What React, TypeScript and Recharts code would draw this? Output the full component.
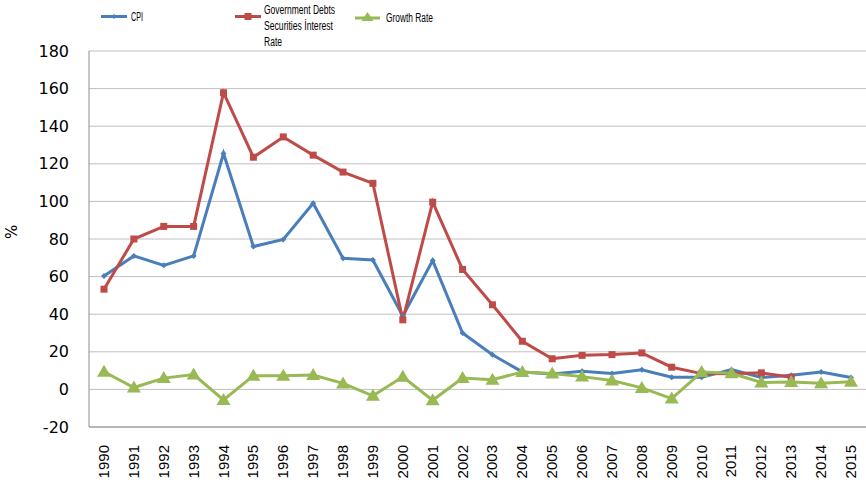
import React from 'react';
import { LineChart, Line, XAxis, YAxis, CartesianGrid } from 'recharts';

const years = [
  '1990', '1991', '1992', '1993', '1994', '1995', '1996', '1997', '1998', '1999',
  '2000', '2001', '2002', '2003', '2004', '2005', '2006', '2007', '2008', '2009',
  '2010', '2011', '2012', '2013', '2014', '2015',
];
const cpi = [
  60.3, 71, 66, 71, 125.5, 76, 79.8, 99, 69.7, 68.8,
  39, 68.5, 30, 18.4, 9.3, 8.2, 9.6, 8.4, 10.4, 6.5,
  6.4, 10.5, 6.3, 7.5, 9.3, 6.3,
];
const govRate: (number | null)[] = [
  53.3, 80, 86.7, 86.7, 157.8, 123.5, 134.3, 124.6, 115.6, 109.6,
  37, 99.6, 63.8, 45, 25.6, 16.3, 18.1, 18.5, 19.4, 11.8,
  8.4, 8.3, 8.8, 6.5, null, null,
];
const growth = [
  9.4, 1, 6, 7.9, -5.6, 7.3, 7.2, 7.6, 3.2, -3.4,
  6.7, -5.8, 6, 5.1, 9.3, 8.5, 6.8, 4.7, 0.8, -4.9,
  9.2, 8.6, 3.7, 4, 3.3, 4.1,
];
const yTicks = [-20, 0, 20, 40, 60, 80, 100, 120, 140, 160, 180];

const data = years.map((year, i) => ({
  year,
  cpi: cpi[i],
  gov: govRate[i],
  growth: growth[i],
}));

const BLUE = '#4a7ebb';
const RED = '#be4b48';
const GREEN = '#98b954';

const SquareDot = (props: any) => {
  const { cx, cy, value } = props;
  if (value == null || cx == null || cy == null) return null;
  return <rect x={cx - 3.5} y={cy - 3.5} width={7} height={7} fill={RED} />;
};

const DiamondDot = (props: any) => {
  const { cx, cy } = props;
  if (cx == null || cy == null) return null;
  return <path d={`M${cx},${cy - 3}L${cx + 3},${cy}L${cx},${cy + 3}L${cx - 3},${cy}Z`} fill={BLUE} />;
};

const TriangleDot = (props: any) => {
  const { cx, cy } = props;
  if (cx == null || cy == null) return null;
  return <path d={`M${cx},${cy - 7}L${cx + 7},${cy + 5}L${cx - 7},${cy + 5}Z`} fill={GREEN} />;
};

const YearTick = (props: any) => {
  const { x, y, payload } = props;
  return (
    <g transform={`translate(${x},${y})`}>
      <text
        x={-16}
        y={0}
        dy={5}
        transform="rotate(-90)"
        textAnchor="end"
        fill="#000"
        fontSize={15}
        fontFamily="'Liberation Sans', Arial, sans-serif"
      >
        {payload.value}
      </text>
    </g>
  );
};

const legendFont = { fontFamily: "'Liberation Sans', Arial, sans-serif", fontSize: 12, fill: '#000' };

const TopLegend = () => (
  <svg width={866} height={50} style={{ position: 'absolute', left: 0, top: 0 }}>
    <line x1={101} y1={16.5} x2={127} y2={16.5} stroke={BLUE} strokeWidth={3} />
    <path d="M114,14L116.5,16.5L114,19L111.5,16.5Z" fill={BLUE} />
    <text x={131} y={20.5} textLength={12} lengthAdjust="spacingAndGlyphs" style={legendFont}>CPI</text>

    <line x1={235} y1={16.5} x2={261} y2={16.5} stroke={RED} strokeWidth={3} />
    <rect x={244.5} y={13} width={7} height={7} fill={RED} />
    <text x={264} y={14} textLength={71} lengthAdjust="spacingAndGlyphs" style={legendFont}>Government Debts</text>
    <text x={264} y={30} textLength={69} lengthAdjust="spacingAndGlyphs" style={legendFont}>Securities İnterest</text>
    <text x={264} y={46} textLength={18} lengthAdjust="spacingAndGlyphs" style={legendFont}>Rate</text>

    <line x1={355} y1={18} x2={380} y2={18} stroke={GREEN} strokeWidth={3} />
    <path d="M367.5,12L373.5,21L361.5,21Z" fill={GREEN} />
    <text x={386} y={22} textLength={47} lengthAdjust="spacingAndGlyphs" style={legendFont}>Growth Rate</text>
  </svg>
);

export default function App() {
  return (
    <div style={{ position: 'absolute', left: 0, top: 0, width: 866, height: 483, background: '#fff' }}>
      <LineChart
        width={866}
        height={483}
        data={data}
        margin={{ top: 51, right: 0, bottom: 0, left: 0 }}
      >
        <CartesianGrid vertical={false} stroke="#c0c0c0" strokeWidth={1} />
        <XAxis
          dataKey="year"
          height={56}
          interval={0}
          padding={{ left: 15, right: 15 }}
          tickLine={false}
          tickSize={0}
          axisLine={{ stroke: '#8c8c8c' }}
          tick={<YearTick />}
        />
        <YAxis
          width={89}
          domain={[-20, 180]}
          ticks={yTicks}
          interval={0}
          tickLine={false}
          tickSize={0}
          tickMargin={20}
          axisLine={{ stroke: '#8c8c8c' }}
          tick={{ fill: '#000', fontSize: 16, fontFamily: "'DejaVu Sans', Verdana, sans-serif" }}
          label={{
            value: '%',
            angle: -90,
            position: 'insideLeft',
            offset: 12,
            style: { fill: '#000', fontSize: 15, fontFamily: "'DejaVu Sans', Verdana, sans-serif" },
          }}
        />
        <Line
          dataKey="cpi"
          stroke={BLUE}
          strokeWidth={3}
          dot={<DiamondDot />}
          activeDot={false}
          isAnimationActive={false}
        />
        <Line
          dataKey="gov"
          stroke={RED}
          strokeWidth={3}
          dot={<SquareDot />}
          activeDot={false}
          connectNulls={false}
          isAnimationActive={false}
        />
        <Line
          dataKey="growth"
          stroke={GREEN}
          strokeWidth={3}
          dot={<TriangleDot />}
          activeDot={false}
          isAnimationActive={false}
        />
      </LineChart>
      <TopLegend />
    </div>
  );
}
